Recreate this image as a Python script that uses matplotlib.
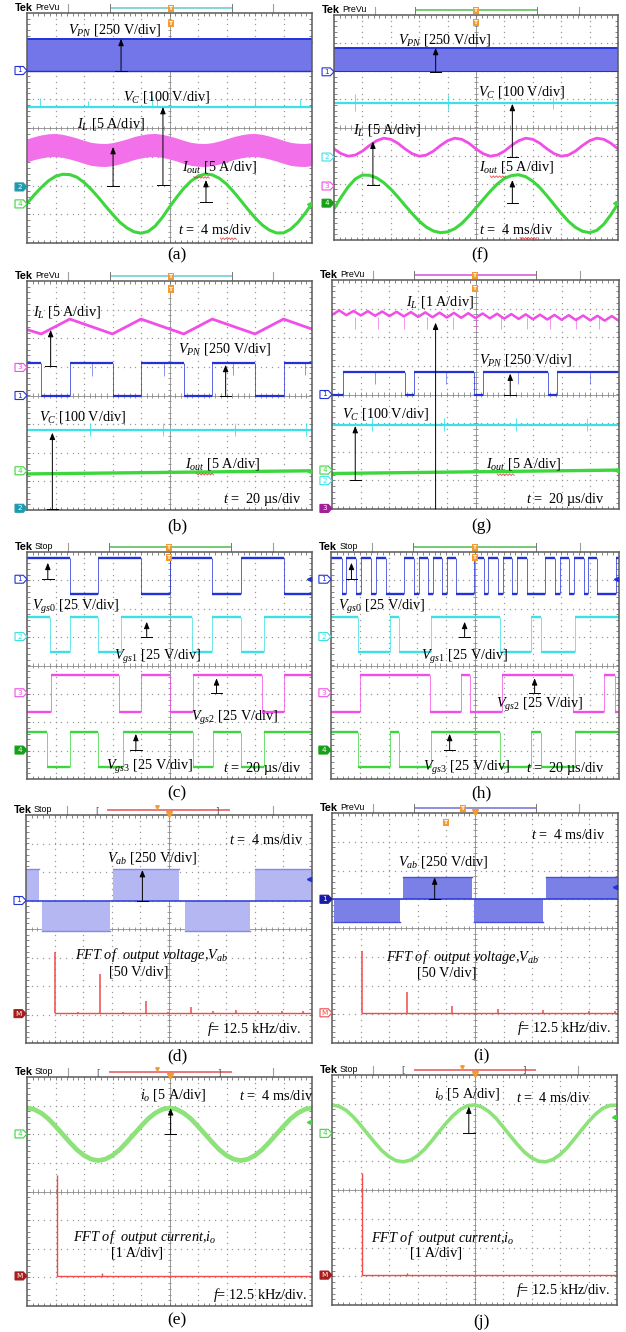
import numpy as np
import matplotlib
matplotlib.use('Agg')
import matplotlib.pyplot as plt
from matplotlib.patches import Polygon

plt.rcParams['mathtext.fontset'] = 'custom'
plt.rcParams['mathtext.rm'] = 'Liberation Serif'
plt.rcParams['mathtext.it'] = 'Liberation Serif:italic'
plt.rcParams['mathtext.bf'] = 'Liberation Serif:bold'

SERIF = 'Liberation Serif'
FS = 10.3

BLUE = '#2332d8'; BAND_BLUE = '#7276e8'; CYAN = '#3ee0e8'; TEAL = '#1e9cae'
MAG = '#f04ee6'; DMAG = '#a0209a'; GREEN = '#3dd63d'; DGREEN = '#16a016'
LGREEN = '#8de27a'; RED = '#f04a4a'; DRED = '#a81c1c'; DBLUE = '#1a1aa8'

W, H = 626, 1332

# ======================= DATA (in scope divisions) =======================
X41 = np.linspace(0, 10, 41)

# (a)
A_VPN_LO, A_VPN_HI = 2.0, 3.1
A_VC = 0.73
A_VC_SPIKE_X = [0.46, 2.15, 4.40, 4.55, 8.0, 9.58]
A_VC_SPIKE_TOP = [1.05, 0.95, 1.12, 1.0, 1.05, 1.0]
A_IL_C = [-0.78, -0.70, -0.64, -0.60, -0.59, -0.62, -0.68, -0.75, -0.83, -0.90, -0.93, -0.94, -0.91, -0.85,
          -0.78, -0.70, -0.64, -0.60, -0.59, -0.62, -0.68, -0.75, -0.83, -0.90, -0.93, -0.94, -0.91, -0.85,
          -0.78, -0.70, -0.64, -0.60, -0.59, -0.62, -0.68, -0.75, -0.83, -0.90, -0.93, -0.94, -0.91]
A_IL_HW = 0.4
A_IOUT = [-2.63, -2.33, -2.07, -1.84, -1.68, -1.61, -1.62, -1.71, -1.89, -2.13, -2.41, -2.71, -3.00, -3.27,
          -3.47, -3.61, -3.66, -3.60, -3.41, -3.11, -2.75, -2.41, -2.10, -1.85, -1.68, -1.60, -1.63, -1.75,
          -1.95, -2.22, -2.52, -2.83, -3.12, -3.37, -3.55, -3.65, -3.65, -3.52, -3.29, -2.98, -2.63]

# (f)
F_VPN_LO, F_VPN_HI = 2.0, 2.83
F_VC = 0.87
F_VC_SPIKE_X = [0.74, 4.02, 7.70]
F_VC_SPIKE_TOP = [1.2, 1.15, 1.1]
F_VC_SPIKE_BOT = [0.6, 0.62, 0.65]
F_IL = [-0.76, -0.93, -1.02, -0.98, -0.84, -0.64, -0.47, -0.38, -0.42, -0.56,
        -0.76, -0.93, -1.02, -0.98, -0.84, -0.64, -0.47, -0.38, -0.42, -0.56,
        -0.76, -0.93, -1.02, -0.98, -0.84, -0.64, -0.47, -0.38, -0.42, -0.56,
        -0.76, -0.93, -1.02, -0.98, -0.84, -0.64, -0.47, -0.38, -0.42, -0.56, -0.76]
F_IOUT = [-2.89, -2.48, -2.11, -1.83, -1.69, -1.70, -1.79, -1.96, -2.19, -2.47, -2.77, -3.06, -3.33, -3.54,
          -3.68, -3.74, -3.71, -3.60, -3.41, -3.15, -2.86, -2.56, -2.27, -2.01, -1.81, -1.71, -1.68, -1.75,
          -1.91, -2.14, -2.43, -2.74, -3.05, -3.33, -3.55, -3.69, -3.74, -3.66, -3.44, -3.10, -2.71]

# (b)
B_IL_X = [0, 0.5, 1.5, 3.0, 4.0, 5.5, 6.5, 8.0, 9.0, 10]
B_IL_Y = [2.30, 2.15, 2.67, 2.15, 2.67, 2.15, 2.67, 2.15, 2.67, 2.32]
B_VPN_T = [0, 0.5, 1.5, 3.0, 4.0, 5.5, 6.5, 8.0, 9.0, 10]
B_VPN_S = [1, 0, 1, 0, 1, 0, 1, 0, 1]
B_VPN_HI, B_VPN_LO = 1.15, 0.0
B_VPN_SPIKE_X = [2.27, 4.81, 7.24, 9.76]
B_VPN_SPIKE_BOT = [0.68, 0.68, 0.7, 0.7]
B_VC = -1.2
B_VC_SPIKE_X = [2.2, 4.78, 7.3, 9.8]
B_IOUT_X = [0, 10]
B_IOUT_Y = [-2.74, -2.63]

# (g)
G_IL = [2.78, 2.94, 2.77, 2.92, 2.76, 2.91, 2.75, 2.90, 2.74, 2.89, 2.73, 2.88, 2.71, 2.87, 2.70, 2.86, 2.69,
        2.85, 2.68, 2.84, 2.67, 2.83, 2.66, 2.82, 2.65, 2.81, 2.64, 2.80, 2.63, 2.79, 2.62, 2.78, 2.61, 2.77,
        2.60, 2.76, 2.59, 2.75, 2.58, 2.74, 2.57]
G_IL_SPIKE_X = [0.8, 1.6, 2.5, 3.3, 4.2, 5.0, 5.9, 6.8, 7.6, 8.5, 9.3]
G_VPN_T = [0, 0.38, 2.53, 2.86, 4.96, 5.25, 7.53, 7.85, 10]
G_VPN_S = [0, 1, 0, 1, 0, 1, 0, 1]
G_VPN_HI, G_VPN_LO = 0.8, 0.0
G_VPN_SPIKE_X = [1.49, 3.98, 6.48, 8.98]
G_VC = -1.07
G_VC_SPIKE_X = [1.4, 3.9, 6.4, 8.9]
G_IOUT_X = [0, 10]
G_IOUT_Y = [-2.76, -2.64]

# (c)
C_VGS0_T = [0, 1.5, 2.5, 4.0, 5.0, 6.5, 7.5, 9.0, 10]
C_VGS0_S = [1, 0, 1, 0, 1, 0, 1, 0]
C_VGS1_T = [0, 0.8, 1.5, 2.5, 3.3, 5.8, 6.5, 7.5, 8.3, 10]
C_VGS1_S = [1, 0, 1, 0, 1, 0, 1, 0, 1]
C_VGS2_T = [0, 0.83, 3.23, 4.0, 5.0, 5.83, 8.23, 9.0, 10]
C_VGS2_S = [0, 1, 0, 1, 0, 1, 0, 1]
C_VGS3_T = [0, 0.69, 1.5, 2.5, 3.36, 5.84, 6.54, 7.5, 8.33, 10]
C_VGS3_S = [1, 0, 1, 0, 1, 0, 1, 0, 1]
LEV_VGS0 = (3.78, 2.52)
LEV_VGS1 = (1.70, 0.49)
LEV_VGS2 = (-0.33, -1.63)
LEV_VGS3 = (-2.33, -3.57)

# (h)
H_VGS0_T = [0, 0.39, 0.53, 0.88, 1.05, 1.40, 1.55, 1.90, 2.52, 2.87, 3.04, 3.37, 3.54, 3.87, 4.03, 4.35,
            4.97, 5.31, 5.46, 5.80, 5.96, 6.30, 6.45, 6.79, 7.44, 7.78, 7.94, 8.27, 8.44, 8.77, 8.93, 9.22,
            9.88, 10]
H_VGS0_S = [1, 0, 1, 0, 1, 0, 1, 0, 1, 0, 1, 0, 1, 0, 1, 0,
            1, 0, 1, 0, 1, 0, 1, 0, 1, 0, 1, 0, 1, 0, 1, 0, 1]
H_VGS1_T = [0, 0.94, 2.04, 2.36, 3.48, 5.88, 6.96, 7.30, 8.46, 10]
H_VGS1_S = [1, 0, 1, 0, 1, 0, 1, 0, 1]
H_VGS2_T = [0, 1.0, 3.43, 4.53, 4.81, 5.95, 8.40, 9.47, 9.85, 10]
H_VGS2_S = [0, 1, 0, 1, 0, 1, 0, 1, 0]
H_VGS3_T = [0, 0.94, 2.04, 2.36, 3.48, 5.88, 6.96, 7.30, 8.46, 10]
H_VGS3_S = [1, 0, 1, 0, 1, 0, 1, 0, 1]

# (d)
D_ZERO, D_POS, D_NEG = 1.0, 2.09, -0.08
D_POS_START = [0.0, 3.05, 8.01]
D_POS_END = [0.47, 5.36, 10.0]
D_NEG_START = [0.55, 5.56]
D_NEG_END = [2.94, 7.83]
D_FFT_BASE = -2.96
D_FFT_F = [1.01, 1.83, 2.59, 3.40, 4.18, 4.98, 5.76, 6.55, 7.34, 8.12, 8.94, 9.70]
D_FFT_TOP = [-0.80, -2.90, -1.58, -2.90, -2.52, -2.90, -2.73, -2.89, -2.84, -2.87, -2.86, -2.86]

# (i)
I_ZERO, I_POS, I_NEG = 1.0, 1.76, 0.2
I_POS_START = [2.48, 7.49]
I_POS_END = [4.91, 10.0]
I_NEG_START = [0.06, 4.97]
I_NEG_END = [2.39, 7.38]
I_FFT_BASE = -2.95
I_FFT_F = [1.06, 2.62, 4.21, 5.80, 7.38, 8.99, 9.88]
I_FFT_TOP = [-0.80, -2.21, -2.71, -2.83, -2.86, -2.88, -2.87]

# (e)
E_IO = [2.92, 2.87, 2.74, 2.54, 2.28, 2.00, 1.72, 1.46, 1.26, 1.13, 1.08, 1.13, 1.26, 1.46, 1.72, 2.00, 2.28,
        2.54, 2.74, 2.87, 2.92, 2.87, 2.74, 2.54, 2.28, 2.00, 1.72, 1.46, 1.26, 1.13, 1.08, 1.13, 1.26, 1.46,
        1.72, 2.00, 2.28, 2.54, 2.74, 2.87, 2.92]
E_FFT_BASE = -2.95
E_FFT_F = [1.06, 2.62]
E_FFT_TOP = [0.58, -2.86]

# (j)
J_IO = [2.96, 2.91, 2.77, 2.54, 2.26, 1.95, 1.65, 1.37, 1.16, 1.02, 0.98, 1.04, 1.19, 1.42, 1.71, 2.02, 2.32,
        2.59, 2.80, 2.93, 2.96, 2.89, 2.73, 2.50, 2.20, 1.89, 1.59, 1.32, 1.12, 1.00, 0.98, 1.06, 1.23, 1.47,
        1.77, 2.08, 2.38, 2.64, 2.84, 2.94, 2.95]
J_FFT_BASE = -2.96
J_FFT_F = [1.06, 2.64]
J_FFT_TOP = [0.58, -2.88]

# ======================= DRAWING HELPERS =======================
fig = plt.figure(figsize=(W / 100, H / 100), dpi=100)


def scope(box):
    l, t, r, b = box
    ax = fig.add_axes([l / W, 1 - b / H, (r - l) / W, (b - t) / H])
    ax.set_xlim(0, 10)
    ax.set_ylim(-4, 4)
    ax.set_xticks([])
    ax.set_yticks([])
    for s in ax.spines.values():
        s.set_color('#5a5a5a'); s.set_linewidth(1.1); s.set_zorder(6)
    gx = np.arange(0, 10.001, 0.2)
    gy = np.arange(-4, 4.001, 0.2)
    for i in [1, 2, 3, 4, 6, 7, 8, 9]:
        ax.plot(np.full(gy.size, i), gy, ls='none', marker='s', ms=0.9, mew=0, color='#9a9a9a', zorder=0.5)
    for j in [-3, -2, -1, 1, 2, 3]:
        ax.plot(gx, np.full(gx.size, j), ls='none', marker='s', ms=0.9, mew=0, color='#9a9a9a', zorder=0.5)
    ax.plot([0, 10], [0, 0], color='#8a8a8a', lw=0.6, zorder=0.6)
    ax.plot([5, 5], [-4, 4], color='#8a8a8a', lw=0.6, zorder=0.6)
    tx = np.arange(0.2, 9.9, 0.2)
    ty = np.arange(-3.8, 3.9, 0.2)
    ax.vlines(tx, -0.08, 0.08, color='#8a8a8a', lw=0.6, zorder=0.6)
    ax.hlines(ty, 4.93, 5.07, color='#8a8a8a', lw=0.6, zorder=0.6)
    ax.vlines(tx, 3.88, 4, color='#707070', lw=0.6, zorder=0.6)
    ax.vlines(tx, -4, -3.88, color='#707070', lw=0.6, zorder=0.6)
    ax.hlines(ty, 0, 0.1, color='#707070', lw=0.6, zorder=0.6)
    ax.hlines(ty, 9.9, 10, color='#707070', lw=0.6, zorder=0.6)
    return ax


def header(ax, status, color, line, style='ticks', brackets=None, orange=5.0, orange_small=None):
    y = 4.17
    ax.text(-0.42, y, 'Tek', fontsize=7.8, fontweight='bold', family='Liberation Sans', ha='left',
            va='center', clip_on=False)
    ax.text(0.28, y + 0.03, status, fontsize=6.4, family='Liberation Sans', ha='left', va='center',
            clip_on=False)
    for sx in (1.43, 8.63):
        ax.plot([sx, sx], [4.0, 4.3], color='#a0a0a0', lw=0.8, clip_on=False)
    ax.plot(line, [y, y], color=color, lw=1.2, clip_on=False, solid_capstyle='butt')
    if style == 'ticks':
        for lx in line:
            ax.plot([lx, lx], [4.04, 4.3], color='#777777', lw=0.7, clip_on=False)
        ax.text(orange, y, 'T', fontsize=4.2, color='white', ha='center', va='center', fontweight='bold',
                bbox=dict(boxstyle='square,pad=0.18', fc='#f39a30', ec='none'), clip_on=False, zorder=9)
    else:
        for bx, ch in zip(brackets, '[]'):
            ax.text(bx, y, ch, fontsize=6.5, color='#555555', ha='center', va='center', clip_on=False)
        ax.plot([orange], [4.03], marker='v', ms=4, color='#f39a30', clip_on=False, zorder=9)
    if orange_small is not None:
        ax.plot([orange_small], [4.28], marker='v', ms=2.5, color='#f39a30', clip_on=False, zorder=9)


def trig(ax, x, y):
    ax.text(x, y, 'T', fontsize=4.2, color='white', ha='center', va='center', fontweight='bold',
            bbox=dict(boxstyle='square,pad=0.18', fc='#f39a30', ec='none'), clip_on=False, zorder=9)


def chmark(ax, y, num, color, filled=False):
    pts = [(-0.42, y - 0.14), (-0.13, y - 0.14), (0.0, y), (-0.13, y + 0.14), (-0.42, y + 0.14)]
    ax.add_patch(Polygon(pts, closed=True, fc=color if filled else 'white', ec=color, lw=0.8,
                         clip_on=False, zorder=7))
    ax.text(-0.26, y, num, color='white' if filled else color, fontsize=5.2, ha='center', va='center',
            family='DejaVu Sans', clip_on=False, zorder=8)


def rmark(ax, y, color):
    ax.plot([9.88], [y], marker='<', ms=3, color=color, zorder=7, clip_on=False)


def arrow(ax, x, y0, y1):
    ax.annotate('', xy=(x, y1), xytext=(x, y0),
                arrowprops=dict(arrowstyle='-|>,head_length=0.5,head_width=0.2', color='black', lw=0.7,
                                shrinkA=0, shrinkB=0, mutation_scale=8), zorder=9)
    ax.plot([x - 0.2, x + 0.2], [y0, y0], color='black', lw=0.7, zorder=9)


def txt(ax, x, y, s, style='normal', size=FS):
    ax.text(x, y, s, family=SERIF, fontsize=size, ha='left', va='center', style=style, zorder=10)


def squiggle(ax, x0, x1, y):
    # red spell-check underline under a word (decoration)
    n = int((x1 - x0) / 0.05) + 1
    xs = np.linspace(x0, x1, n)
    ys = y + np.where(np.arange(n) % 2 == 0, 0.03, -0.03)
    ax.plot(xs, ys, color='#e03030', lw=0.5, zorder=10)


def digital(ax, t, s, levels, color, lw=1.7):
    hi, lo = levels
    lv = [hi if v else lo for v in s]
    ax.hlines(lv, t[:-1], t[1:], color=color, lw=lw, zorder=3)
    ax.vlines(t[1:-1], lo, hi, color=color, lw=0.7, alpha=0.75, zorder=3)


def plabel(x, y, s):
    fig.text(x / W, 1 - y / H, s, ha='center', va='center', family=SERIF, fontsize=12.5)


# ======================= PANEL (a) =======================
ax = scope((27, 13, 312, 243))
header(ax, 'PreVu', '#6fd0d0', (2.91, 7.19), orange=5.05)
trig(ax, 5.05, 3.65)
ax.fill_between([0, 10], A_VPN_LO, A_VPN_HI, color=BAND_BLUE, lw=0, zorder=2)
ax.plot([0, 10], [A_VPN_HI, A_VPN_HI], color=BLUE, lw=1.4, zorder=2)
ax.plot([0, 10], [A_VPN_LO, A_VPN_LO], color=BLUE, lw=1.0, zorder=2)
ax.plot([0, 10], [A_VC, A_VC], color=CYAN, lw=1.6, zorder=2)
ax.vlines(A_VC_SPIKE_X, A_VC, A_VC_SPIKE_TOP, color=CYAN, lw=0.6, zorder=2)
ilc = np.array(A_IL_C)
ax.fill_between(X41, ilc - A_IL_HW, ilc + A_IL_HW, color='#f270ea', lw=0, zorder=2)
ax.plot(X41, A_IOUT, color=GREEN, lw=2.2, zorder=3)
chmark(ax, 2.0, '1', BLUE); chmark(ax, -2.05, '2', TEAL, True); chmark(ax, -2.64, '4', GREEN)
rmark(ax, -2.64, GREEN)
arrow(ax, 3.30, 2.0, 3.1)
arrow(ax, 4.77, -1.98, 0.73)
arrow(ax, 3.02, -2.02, -0.66)
arrow(ax, 6.28, -2.57, -1.81)
txt(ax, 1.44, 3.41, r'$V_{PN}$ [250 V/div]')
txt(ax, 3.37, 1.08, r'$V_C$ [100 V/div]')
txt(ax, 1.75, 0.14, r'$I_L$ [5 A/div]')
txt(ax, 5.44, -1.36, r'$I_{out}$ [5 A/div]')
txt(ax, 5.30, -3.55, r'$t$ =  4 ms/div')
squiggle(ax, 5.85, 6.4, -1.72)
squiggle(ax, 6.78, 7.35, -3.85)
plabel(177, 255, '(a)')

# ======================= PANEL (f) =======================
ax = scope((334, 15, 618, 240))
header(ax, 'PreVu', '#60c060', (2.85, 7.15), orange=5.0)
trig(ax, 5.0, 3.72)
ax.fill_between([0, 10], F_VPN_LO, F_VPN_HI, color=BAND_BLUE, lw=0, zorder=2)
ax.plot([0, 10], [F_VPN_HI, F_VPN_HI], color=BLUE, lw=1.4, zorder=2)
ax.plot([0, 10], [F_VPN_LO, F_VPN_LO], color=BLUE, lw=0.8, zorder=2)
ax.plot([0, 10], [F_VC, F_VC], color=CYAN, lw=1.6, zorder=2)
ax.vlines(F_VC_SPIKE_X, F_VC_SPIKE_BOT, F_VC_SPIKE_TOP, color=CYAN, lw=0.6, zorder=2)
ax.plot(X41, F_IL, color=MAG, lw=2.0, zorder=3)
ax.plot(X41, F_IOUT, color=GREEN, lw=2.2, zorder=3)
chmark(ax, 1.98, '1', BLUE); chmark(ax, -1.05, '2', CYAN); chmark(ax, -2.08, '3', MAG)
chmark(ax, -2.69, '4', DGREEN, True)
rmark(ax, -2.7, GREEN)
arrow(ax, 3.58, 1.98, 2.83)
arrow(ax, 6.28, -1.04, 0.84)
arrow(ax, 1.37, -2.04, -0.50)
arrow(ax, 6.28, -2.69, -1.87)
txt(ax, 2.25, 3.11, r'$V_{PN}$ [250 V/div]')
txt(ax, 5.07, 1.27, r'$V_C$ [100 V/div]')
txt(ax, 0.67, -0.09, r'$I_L$ [5 A/div]')
txt(ax, 5.10, -1.39, r'$I_{out}$ [5 A/div]')
txt(ax, 5.10, -3.64, r'$t$ =  4 ms/div')
squiggle(ax, 5.5, 6.05, -1.75)
squiggle(ax, 6.55, 7.15, -3.94)
plabel(480, 255, '(f)')

# ======================= PANEL (b) =======================
ax = scope((27, 281, 312, 510))
header(ax, 'PreVu', '#6fd0d8', (2.91, 7.19), orange=5.05)
trig(ax, 5.05, 3.72)
ax.plot(B_IL_X, B_IL_Y, color=MAG, lw=2.0, zorder=3)
digital(ax, B_VPN_T, B_VPN_S, (B_VPN_HI, B_VPN_LO), BLUE, lw=1.6)
ax.vlines(B_VPN_SPIKE_X, B_VPN_SPIKE_BOT, B_VPN_HI, color=BLUE, lw=0.6, alpha=0.6, zorder=3)
ax.plot([0, 10], [B_VC, B_VC], color=CYAN, lw=1.6, zorder=2)
ax.vlines(B_VC_SPIKE_X, B_VC - 0.2, B_VC + 0.25, color=CYAN, lw=0.6, zorder=2)
ax.plot(B_IOUT_X, B_IOUT_Y, color=GREEN, lw=2.4, zorder=3)
chmark(ax, 0.98, '3', MAG); chmark(ax, 0.0, '1', BLUE); chmark(ax, -2.63, '4', GREEN)
chmark(ax, -3.94, '2', TEAL, True)
rmark(ax, -2.63, GREEN)
arrow(ax, 0.83, 1.03, 2.29)
arrow(ax, 6.97, 0.0, 1.07)
arrow(ax, 0.89, -3.98, -1.30)
txt(ax, 0.22, 2.93, r'$I_L$ [5 A/div]')
txt(ax, 5.31, 1.61, r'$V_{PN}$ [250 V/div]')
txt(ax, 0.43, -0.74, r'$V_C$ [100 V/div]')
txt(ax, 5.54, -2.39, r'$I_{out}$ [5 A/div]')
txt(ax, 6.87, -3.63, r'$t$ =  20 µs/div')
squiggle(ax, 5.95, 6.55, -2.75)
plabel(177, 526, '(b)')

# ======================= PANEL (g) =======================
ax = scope((332, 280, 619, 509))
header(ax, 'PreVu', '#d860d8', (2.86, 7.11), orange=4.98)
trig(ax, 4.98, 3.69)
ax.plot(X41, G_IL, color=MAG, lw=1.8, zorder=3)
ax.vlines(G_IL_SPIKE_X, 2.3, 2.7, color=MAG, lw=0.6, alpha=0.7, zorder=3)
digital(ax, G_VPN_T, G_VPN_S, (G_VPN_HI, G_VPN_LO), BLUE, lw=1.6)
ax.vlines(G_VPN_SPIKE_X, 0.35, G_VPN_HI, color=BLUE, lw=0.6, alpha=0.6, zorder=3)
ax.plot([0, 10], [G_VC, G_VC], color=CYAN, lw=1.6, zorder=2)
ax.vlines(G_VC_SPIKE_X, G_VC - 0.2, G_VC + 0.25, color=CYAN, lw=0.6, zorder=2)
ax.plot(G_IOUT_X, G_IOUT_Y, color=GREEN, lw=2.4, zorder=3)
chmark(ax, 0.0, '1', BLUE); chmark(ax, -2.64, '4', GREEN); chmark(ax, -3.01, '2', CYAN)
chmark(ax, -3.98, '3', DMAG, True)
rmark(ax, -2.64, GREEN)
arrow(ax, 3.61, -4.0, 2.51)
arrow(ax, 6.21, 0.0, 0.73)
arrow(ax, 0.81, -2.99, -1.10)
txt(ax, 2.57, 3.24, r'$I_L$ [1 A/div]')
txt(ax, 5.13, 1.20, r'$V_{PN}$ [250 V/div]')
txt(ax, 0.36, -0.68, r'$V_C$ [100 V/div]')
txt(ax, 5.35, -2.43, r'$I_{out}$ [5 A/div]')
txt(ax, 6.77, -3.66, r'$t$ =  20 µs/div')
squiggle(ax, 5.75, 6.35, -2.8)
plabel(481, 526, '(g)')

# ======================= PANEL (c) =======================
ax = scope((27, 552, 312, 779))
header(ax, 'Stop', '#60c060', (2.88, 7.16), orange=4.98)
trig(ax, 4.98, 3.8)
digital(ax, C_VGS0_T, C_VGS0_S, LEV_VGS0, BLUE)
digital(ax, C_VGS1_T, C_VGS1_S, LEV_VGS1, CYAN)
digital(ax, C_VGS2_T, C_VGS2_S, LEV_VGS2, MAG)
digital(ax, C_VGS3_T, C_VGS3_S, LEV_VGS3, GREEN)
chmark(ax, 3.04, '1', BLUE); chmark(ax, 1.02, '2', CYAN); chmark(ax, -0.96, '3', MAG)
chmark(ax, -2.98, '4', DGREEN, True)
rmark(ax, 3.04, BLUE)
arrow(ax, 0.73, 3.04, 3.62)
arrow(ax, 4.20, 1.02, 1.54)
arrow(ax, 6.65, -0.96, -0.45)
arrow(ax, 3.82, -2.98, -2.41)
txt(ax, 0.16, 2.05, r'$V_{gs0}$ [25 V/div]')
txt(ax, 3.07, 0.31, r'$V_{gs1}$ [25 V/div]')
txt(ax, 5.74, -1.86, r'$V_{gs2}$ [25 V/div]')
txt(ax, 2.77, -3.57, r'$V_{gs3}$ [25 V/div]')
txt(ax, 6.87, -3.62, r'$t$ =  20 µs/div')
plabel(177, 793, '(c)')

# ======================= PANEL (h) =======================
ax = scope((331, 552, 619, 779))
header(ax, 'Stop', '#60c060', (2.85, 7.12), orange=5.0)
trig(ax, 5.0, 3.8)
digital(ax, H_VGS0_T, H_VGS0_S, LEV_VGS0, BLUE)
digital(ax, H_VGS1_T, H_VGS1_S, LEV_VGS1, CYAN)
digital(ax, H_VGS2_T, H_VGS2_S, LEV_VGS2, MAG)
digital(ax, H_VGS3_T, H_VGS3_S, LEV_VGS3, GREEN)
chmark(ax, 3.04, '1', BLUE); chmark(ax, 1.02, '2', CYAN); chmark(ax, -0.96, '3', MAG)
chmark(ax, -2.98, '4', DGREEN, True)
rmark(ax, 3.04, BLUE)
arrow(ax, 0.71, 3.04, 3.62)
arrow(ax, 4.64, 1.02, 1.54)
arrow(ax, 7.07, -0.96, -0.45)
arrow(ax, 4.12, -2.98, -2.41)
txt(ax, 0.24, 2.05, r'$V_{gs0}$ [25 V/div]')
txt(ax, 3.14, 0.31, r'$V_{gs1}$ [25 V/div]')
txt(ax, 5.74, -1.39, r'$V_{gs2}$ [25 V/div]')
txt(ax, 3.19, -3.62, r'$V_{gs3}$ [25 V/div]')
txt(ax, 6.78, -3.62, r'$t$ =  20 µs/div')
plabel(481, 793, '(h)')

# ======================= PANEL (d) =======================
ax = scope((26, 815, 312, 1043))
header(ax, 'Stop', '#e86060', (2.83, 7.13), style='brackets', brackets=(2.48, 6.68), orange=5.0,
       orange_small=4.58)
for s0, s1 in zip(D_POS_START, D_POS_END):
    ax.fill_between([s0, s1], D_ZERO, D_POS, color='#b4b7f2', lw=0, zorder=2)
    ax.plot([s0, s1], [D_POS, D_POS], color='#8388ea', lw=1.0, zorder=2)
for s0, s1 in zip(D_NEG_START, D_NEG_END):
    ax.fill_between([s0, s1], D_NEG, D_ZERO, color='#b4b7f2', lw=0, zorder=2)
    ax.plot([s0, s1], [D_NEG, D_NEG], color='#8388ea', lw=1.0, zorder=2)
ax.plot([0, 10], [D_ZERO, D_ZERO], color='#3846d8', lw=1.2, zorder=3)
ax.plot([D_FFT_F[0], 10], [D_FFT_BASE, D_FFT_BASE], color=RED, lw=1.0, zorder=3)
ax.vlines(D_FFT_F, D_FFT_BASE, D_FFT_TOP, color=RED, lw=1.1, zorder=3)
chmark(ax, 1.0, '1', BLUE); chmark(ax, -2.97, 'M', DRED, True)
rmark(ax, 1.75, BLUE)
arrow(ax, 4.07, 1.0, 2.07)
txt(ax, 7.11, 3.12, r'$t$ =  4 ms/div')
txt(ax, 2.84, 2.48, r'$V_{ab}$ [250 V/div]')
txt(ax, 1.71, -0.91, r'FFT of  output voltage,$V_{ab}$', style='italic')
txt(ax, 2.90, -1.50, '[50 V/div]')
txt(ax, 6.34, -3.52, r'$\mathit{f}$= $\mathit{12.5}$ kHz/div.')
plabel(177, 1056, '(d)')

# ======================= PANEL (i) =======================
ax = scope((332, 813, 618, 1043))
header(ax, 'PreVu', '#7a7ad8', (2.87, 7.13), orange=4.58)
ax.plot([5.0], [4.03], marker='v', ms=4, color='#f39a30', clip_on=False, zorder=9)
trig(ax, 3.99, 3.67)
for s0, s1 in zip(I_POS_START, I_POS_END):
    ax.fill_between([s0, s1], I_ZERO, I_POS, color='#7a80e6', lw=0, zorder=2)
    ax.plot([s0, s1], [I_POS, I_POS], color='#4a50dc', lw=1.0, zorder=2)
for s0, s1 in zip(I_NEG_START, I_NEG_END):
    ax.fill_between([s0, s1], I_NEG, I_ZERO, color='#7a80e6', lw=0, zorder=2)
    ax.plot([s0, s1], [I_NEG, I_NEG], color='#4a50dc', lw=1.0, zorder=2)
ax.plot([0, 10], [I_ZERO, I_ZERO], color='#3040d4', lw=1.2, zorder=3)
ax.plot([I_FFT_F[0], 10], [I_FFT_BASE, I_FFT_BASE], color=RED, lw=1.0, zorder=3)
ax.vlines(I_FFT_F, I_FFT_BASE, I_FFT_TOP, color=RED, lw=1.1, zorder=3)
chmark(ax, 1.0, '1', DBLUE, True); chmark(ax, -2.95, 'M', RED)
rmark(ax, 1.44, BLUE)
arrow(ax, 3.59, 1.0, 1.76)
txt(ax, 6.95, 3.23, r'$t$ =  4 ms/div')
txt(ax, 2.31, 2.31, r'$V_{ab}$ [250 V/div]')
txt(ax, 1.88, -1.00, r'FFT of  output voltage,$V_{ab}$', style='italic')
txt(ax, 2.97, -1.58, '[50 V/div]')
txt(ax, 6.47, -3.49, r'$\mathit{f}$= $\mathit{12.5}$ kHz/div.')
plabel(481, 1056, '(i)')

# ======================= PANEL (e) =======================
ax = scope((27, 1077, 312, 1306))
header(ax, 'Stop', '#e86060', (2.88, 7.19), style='brackets', brackets=(2.49, 6.74), orange=5.0,
       orange_small=4.56)
ax.plot(X41, E_IO, color=LGREEN, lw=3.4, zorder=3)
ax.plot([E_FFT_F[0], 10], [E_FFT_BASE, E_FFT_BASE], color=RED, lw=1.0, zorder=3)
ax.vlines(E_FFT_F, E_FFT_BASE, E_FFT_TOP, color=RED, lw=1.0, zorder=3)
chmark(ax, 2.01, '4', GREEN); chmark(ax, -2.95, 'M', DRED, True)
rmark(ax, 2.44, GREEN)
arrow(ax, 5.04, 2.0, 2.91)
txt(ax, 3.96, 3.37, r'$i_o$ [5 A/div]')
txt(ax, 7.45, 3.33, r'$t$ =  4 ms/div')
txt(ax, 1.60, -1.58, r'FFT of  output current,$i_o$', style='italic')
txt(ax, 2.95, -2.14, '[1 A/div]')
txt(ax, 6.52, -3.62, r'$\mathit{f}$= $\mathit{12.5}$ kHz/div.')
plabel(177, 1320, '(e)')

# ======================= PANEL (j) =======================
ax = scope((332, 1075, 617, 1305))
header(ax, 'Stop', '#e86060', (2.88, 7.16), style='brackets', brackets=(2.49, 6.74), orange=5.0,
       orange_small=4.56)
ax.plot(X41, J_IO, color=LGREEN, lw=2.6, zorder=3)
ax.plot([J_FFT_F[0], 10], [J_FFT_BASE, J_FFT_BASE], color=RED, lw=1.0, zorder=3)
ax.vlines(J_FFT_F, J_FFT_BASE, J_FFT_TOP, color=RED, lw=1.0, zorder=3)
chmark(ax, 1.97, '4', GREEN); chmark(ax, -2.96, 'M', DRED, True)
rmark(ax, 2.53, GREEN)
arrow(ax, 4.80, 1.97, 2.90)
txt(ax, 3.57, 3.33, r'$i_o$ [5 A/div]')
txt(ax, 6.47, 3.21, r'$t$ =  4 ms/div')
txt(ax, 1.38, -1.66, r'FFT of  output current,$i_o$', style='italic')
txt(ax, 2.73, -2.19, '[1 A/div]')
txt(ax, 6.47, -3.48, r'$\mathit{f}$= $\mathit{12.5}$ kHz/div.')
plabel(481, 1322, '(j)')

fig.savefig('out.png', dpi=100)
